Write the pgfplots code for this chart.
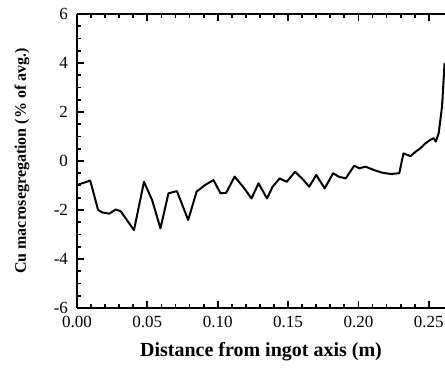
\documentclass[border=0pt]{standalone}
\usepackage{fontspec}
\setmainfont{Liberation Serif}
\usepackage{pgfplots}
\pgfplotsset{compat=1.18}
\begin{document}
\begin{tikzpicture}
\path[use as bounding box] (-38.5pt,-35pt) rectangle (184pt,154pt);
\begin{axis}[
  scale only axis, width=184pt, height=147pt,
  at={(0,0)}, anchor=south west,
  xmin=0, xmax=0.2615, ymin=-6, ymax=6,
  axis y line*=left, axis x line*=box,
  axis line style={line width=1pt},
  xtick={0,0.05,0.10,0.15,0.20,0.25},
  xticklabels={0.00,0.05,0.10,0.15,0.20,0.25},
  ytick={-6,-4,-2,0,2,4,6},
  minor x tick num=4, minor y tick num=3,
  tick align=inside,
  major tick length=3.5pt, minor tick length=2pt,
  every tick/.style={black, line width=0.9pt},
  /pgf/number format/assume math mode=true,
  tick label style={font=\fontsize{8.5}{10}\selectfont},
  yticklabel style={xshift=-1pt},
  xticklabel style={yshift=-0.5pt},
  xlabel={Distance from ingot axis (m)},
  ylabel={Cu macrosegregation (\% of avg.)},
  xlabel style={font=\fontsize{10}{12}\selectfont\bfseries, at={(axis description cs:0.5,-0.15)}, anchor=center},
  ylabel style={font=\fontsize{8}{10}\selectfont\bfseries, at={(axis description cs:-0.1495,0.5)}, anchor=center},
  clip=false,
]
\addplot[black, line width=1pt, line join=round] coordinates {
(0.0000,-0.98) (0.0094,-0.80) (0.0150,-2.00) (0.0180,-2.10) (0.0230,-2.15)
(0.0275,-1.98) (0.0310,-2.05) (0.0405,-2.82) (0.0476,-0.85) (0.0534,-1.60)
(0.0593,-2.75) (0.0650,-1.32) (0.0710,-1.23) (0.0790,-2.41) (0.0850,-1.25)
(0.0910,-0.98) (0.0970,-0.78) (0.1020,-1.32) (0.1060,-1.30) (0.1120,-0.64)
(0.1180,-1.05) (0.1240,-1.53) (0.1290,-0.91) (0.1350,-1.53) (0.1390,-1.05)
(0.1440,-0.71) (0.1490,-0.85) (0.1550,-0.44) (0.1610,-0.78) (0.1650,-1.05)
(0.1700,-0.57) (0.1760,-1.12) (0.1820,-0.50) (0.1860,-0.64) (0.1910,-0.71)
(0.1970,-0.19) (0.2006,-0.30) (0.2050,-0.23) (0.2110,-0.37) (0.2170,-0.48)
(0.2230,-0.53) (0.2290,-0.50) (0.2320,0.31) (0.2370,0.20) (0.2406,0.38)
(0.2440,0.52) (0.2476,0.72) (0.2510,0.86) (0.2535,0.93) (0.2550,0.79)
(0.2570,1.13) (0.2594,2.22) (0.2604,3.20) (0.2612,4.00)
};
\end{axis}
\end{tikzpicture}
\end{document}
